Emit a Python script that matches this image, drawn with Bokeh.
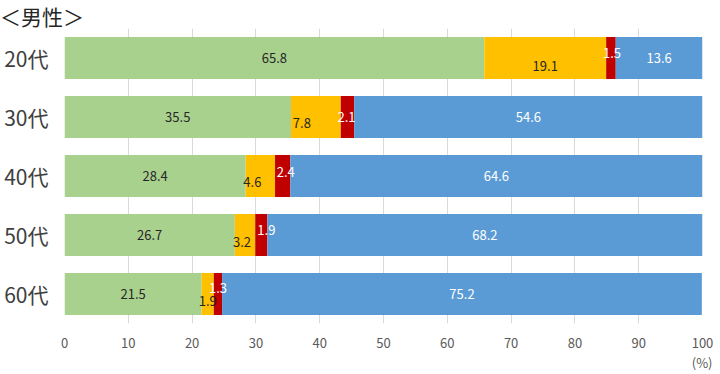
from bokeh.plotting import figure
from bokeh.layouts import column
from bokeh.models import ColumnDataSource, FactorRange, Range1d, FixedTicker, Title, Div
from bokeh.core.properties import value
from bokeh.embed import file_html
from bokeh.resources import INLINE

# ---- data ----
ages = ["20代", "30代", "40代", "50代", "60代"]
s_green = [65.8, 35.5, 28.4, 26.7, 21.5]
s_orange = [19.1, 7.8, 4.6, 3.2, 1.9]
s_red = [1.5, 2.1, 2.4, 1.9, 1.3]
s_blue = [13.6, 54.6, 64.6, 68.2, 75.2]
x_ticks = [0, 10, 20, 30, 40, 50, 60, 70, 80, 90, 100]
title_text = "＜男性＞"
unit_text = "(%)"

# ---- styles ----
colors = ["#A9D18E", "#FFC000", "#C00000", "#5B9BD5"]
label_colors = ["#262626", "#262626", "#FFFFFF", "#FFFFFF"]
FONT = "Noto Sans CJK JP"
# label pixel offsets (dx, dy) per age, per series (to mimic overlap avoidance)
label_offsets = {
    "20代": [(0, 0), (0, 8), (1, -5), (0, 0)],
    "30代": [(0, 0), (-14, 6), (-1, 0), (0, 0)],
    "40代": [(0, 0), (-8, 6), (3, -4), (0, 0)],
    "50代": [(0, 0), (-3, 7), (5, -5), (0, 0)],
    "60代": [(0, 0), (0, 7), (0, -6), (0, 0)],
}

series = [s_green, s_orange, s_red, s_blue]

head = Div(text=title_text, width=720, height=28, margin=0,
           styles={"font-family": FONT, "font-size": "21px", "color": "#262626",
                   "line-height": "24px", "margin": "0", "padding": "4px 0 0 0",
                   "box-sizing": "border-box", "overflow": "visible"})

p = figure(width=720, height=346, output_backend="svg", toolbar_location=None,
           y_range=FactorRange(factors=list(reversed(ages))),
           x_range=Range1d(0, 100),
           min_border_left=64, min_border_right=18, min_border_top=0,
           min_border_bottom=51)
p.outline_line_color = None
p.background_fill_color = "white"
p.border_fill_color = "white"

bar_src = dict(y=[], left=[], right=[], color=[])
lab_src = dict(y=[], x=[], text=[], color=[], dx=[], dy=[])
for i, age in enumerate(ages):
    acc = 0.0
    for k, s in enumerate(series):
        v = s[i]
        bar_src["y"].append(age)
        bar_src["left"].append(acc)
        bar_src["right"].append(acc + v)
        bar_src["color"].append(colors[k])
        lab_src["y"].append(age)
        lab_src["x"].append(acc + v / 2)
        lab_src["text"].append(f"{v:.1f}")
        lab_src["color"].append(label_colors[k])
        dx, dy = label_offsets[age][k]
        lab_src["dx"].append(dx)
        lab_src["dy"].append(dy)
        acc += v

p.hbar(y="y", left="left", right="right", height=0.71, fill_color="color",
       line_color=None, source=ColumnDataSource(bar_src))
p.text(x="x", y="y", text="text", text_color="color", x_offset="dx", y_offset="dy",
       text_align="center", text_baseline="middle", text_font=value(FONT),
       text_font_size="13px", source=ColumnDataSource(lab_src))

p.ygrid.grid_line_color = None
p.xgrid.grid_line_color = "#D9D9D9"
p.xgrid.grid_line_width = 1

p.xaxis.ticker = FixedTicker(ticks=x_ticks)
p.xaxis.axis_line_color = None
p.xaxis.major_tick_line_color = None
p.xaxis.minor_tick_line_color = None
p.xaxis.major_label_text_font = FONT
p.xaxis.major_label_text_font_size = "13px"
p.xaxis.major_label_text_color = "#595959"
p.xaxis.major_label_standoff = 8

p.yaxis.axis_line_color = None
p.yaxis.major_tick_line_color = None
p.yaxis.minor_tick_line_color = None
p.yaxis.major_label_text_font = FONT
p.yaxis.major_label_text_font_size = "21px"
p.yaxis.major_label_text_color = "#404040"
p.yaxis.major_label_standoff = 10

p.add_layout(Title(text=unit_text, align="right", text_font=FONT, text_font_size="13px",
                   text_font_style="normal", text_color="#595959", offset=-10,
                   standoff=0), "below")

layout = column(head, p, spacing=0)
open("out.html", "w").write(file_html(layout, INLINE))
